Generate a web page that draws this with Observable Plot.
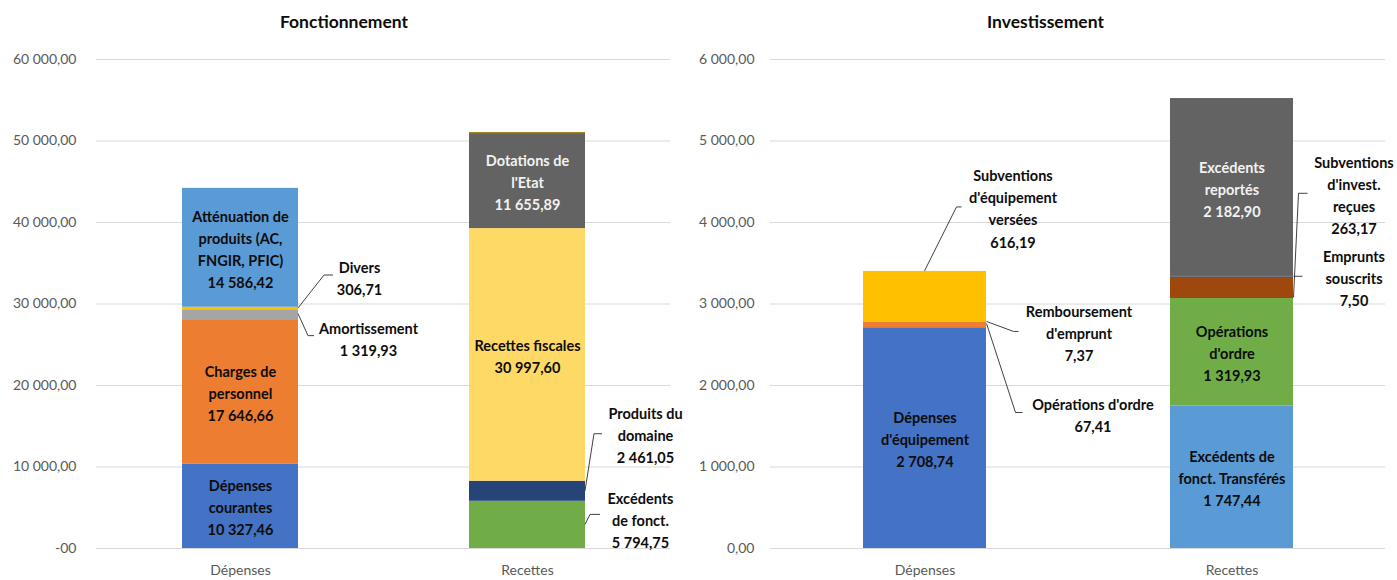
<!DOCTYPE html>
<html>
<head>
<meta charset="utf-8">
<script src="https://cdn.jsdelivr.net/npm/d3@7"></script>
<script src="https://cdn.jsdelivr.net/npm/@observablehq/plot@0.6"></script>
<style>
  body { margin: 0; background: #fff; font-family: Lato, "Noto Sans", sans-serif; }
  #wrap { display: flex; width: 1397px; height: 580px; overflow: hidden; }
  .panel { position: relative; }
  .title { height: 40px; box-sizing: border-box; padding-top: 12px; text-align: center;
           font-weight: bold; font-size: 17.5px; line-height: 20px; color: #0D0D0D; }
  #p1 .title { padding-right: 10px; }
  #p2 .title { padding-right: 4px; }
</style>
</head>
<body>
<div id="wrap"><div class="panel" id="p1"></div><div class="panel" id="p2"></div></div>
<script>
// ---------- DATA ----------
const categories = ["Dépenses", "Recettes"];

// Fonctionnement
const fDepNames  = ["Dépenses\ncourantes", "Charges de\npersonnel", "Amortissement", "Divers", "Atténuation de\nproduits (AC,\nFNGIR, PFIC)"];
const fDepValues = [10327.46, 17646.66, 1319.93, 306.71, 14586.42];
const fRecNames  = ["Excédents\nde fonct.", "Produits du\ndomaine", "Recettes fiscales", "Dotations de\nl'Etat", ""];
const fRecValues = [5794.75, 2461.05, 30997.60, 11655.89, 120];

// Investissement
const iDepNames  = ["Dépenses\nd'équipement", "Opérations d'ordre", "Remboursement\nd'emprunt", "Subventions\nd'équipement\nversées"];
const iDepValues = [2708.74, 67.41, 7.37, 616.19];
const iRecNames  = ["Excédents de\nfonct. Transférés", "Opérations\nd'ordre", "Subventions\nd'invest.\nreçues", "Emprunts\nsouscrits", "Excédents\nreportés"];
const iRecValues = [1747.44, 1319.93, 263.17, 7.50, 2182.90];

// Tick labels
const fTicks = [0, 10000, 20000, 30000, 40000, 50000, 60000];
const fTickLabels = ["-00", "10 000,00", "20 000,00", "30 000,00", "40 000,00", "50 000,00", "60 000,00"];
const iTicks = [0, 1000, 2000, 3000, 4000, 5000, 6000];
const iTickLabels = ["0,00", "1 000,00", "2 000,00", "3 000,00", "4 000,00", "5 000,00", "6 000,00"];

// ---------- STYLES ----------
const fDepColors = ["#4472C4", "#ED7D31", "#A5A5A5", "#FFC000", "#5B9BD5"];
const fRecColors = ["#70AD47", "#264478", "#FFD966", "#636363", "#997300"];
const iDepColors = ["#4472C4", "#ED7D31", "#A5A5A5", "#FFC000"];
const iRecColors = ["#5B9BD5", "#70AD47", "#9E480E", "#264478", "#636363"];

// Callout layout (pixel offsets from band centre / anchor point)
const fCallouts = [
  {cat: "Dépenses", idx: 3, at: "mid", path: [[58, 0], [84, -33], [93, -33]], tx: 119, ty: -32},
  {cat: "Dépenses", idx: 2, at: "mid", path: [[58, -1], [68, 21], [74, 21]], tx: 128, ty: 23},
  {cat: "Recettes", idx: 1, at: "mid", path: [[58, 0], [67, -57], [75, -57]], tx: 118, ty: -57},
  {cat: "Recettes", idx: 0, at: "mid", path: [[58, 0], [63, -10], [73, -10]], tx: 113, ty: -6}
];
const iCallouts = [
  {cat: "Dépenses", idx: 3, at: "y2", path: [[0, 0], [32, -64], [37, -64]], tx: 88, ty: -64},
  {cat: "Dépenses", idx: 2, at: "mid", path: [[62, 0], [89, 10], [94, 10]], tx: 154, ty: 10},
  {cat: "Dépenses", idx: 1, at: "mid", path: [[62, -1], [91, 88], [98, 88]], tx: 168, ty: 89},
  {cat: "Recettes", idx: 2, at: "mid", path: [[62, 10], [67, -94], [76, -94]], tx: 122, ty: -94},
  {cat: "Recettes", idx: 3, at: "mid", path: [[62, 0], [71, 0]], tx: 122, ty: 0}
];

// ---------- HELPERS ----------
const loc = d3.formatLocale({decimal: ",", thousands: " ", grouping: [3]});
const fmt = loc.format(",.2f");
const LABEL_SIZE = 14.5;

function buildRows(cat, names, values, colors) {
  let acc = 0;
  return values.map((v, i) => {
    const y1 = acc; acc += v;
    return {cat, idx: i, name: names[i], value: v, y1, y2: acc, mid: (y1 + acc) / 2,
            color: colors[i],
            textColor: colors[i] === "#636363" ? "#F2F2F2" : "#0D0D0D",
            label: names[i] ? names[i] + "\n" + fmt(v) : ""};
  });
}

function makePanel(el, {title, rows, callouts, ticks, tickLabels, max, width, marginLeft, marginRight, yPad, paddingInner, paddingOuter}) {
  const key = r => r.cat + "|" + r.idx;
  const calloutKeys = new Set(callouts.map(key));
  const inside = rows.filter(r => r.label && !calloutKeys.has(key(r)));
  const findRow = c => rows.find(r => r.cat === c.cat && r.idx === c.idx);

  const leaders = (index, scales) => {
    const sx = scales.x, sy = scales.y;
    const bw = typeof sx.bandwidth === "function" ? sx.bandwidth() : 0;
    const g = document.createElementNS("http://www.w3.org/2000/svg", "g");
    for (const c of callouts) {
      const r = findRow(c);
      const cx = sx(c.cat) + bw / 2;
      const cy = sy(r[c.at]);
      const d = c.path.map((p, i) => (i ? "L" : "M") + (cx + p[0]) + "," + (cy + p[1])).join("");
      const path = document.createElementNS("http://www.w3.org/2000/svg", "path");
      path.setAttribute("d", d);
      path.setAttribute("fill", "none");
      path.setAttribute("stroke", "#404040");
      path.setAttribute("stroke-width", "1");
      g.appendChild(path);
    }
    return g;
  };

  const calloutTexts = callouts.map(c => {
    const r = findRow(c);
    return Plot.text([r], {
      x: "cat", y: d => d[c.at], text: "label", dx: c.tx, dy: c.ty,
      fill: "#0D0D0D", fontWeight: "bold", fontSize: LABEL_SIZE, lineHeight: 1.52
    });
  });

  const t = document.createElement("div");
  t.className = "title";
  t.textContent = title;
  el.appendChild(t);

  const chart = Plot.plot({
    width, height: 540,
    marginTop: 19, marginBottom: 32, marginLeft, marginRight,
    style: {fontFamily: "Lato, 'Noto Sans', sans-serif", fontSize: "14px", color: "#595959", background: "#fff"},
    color: {type: "identity"},
    x: {domain: categories, paddingInner, paddingOuter, tickSize: 0, tickPadding: 17, label: null},
    y: {domain: [0, max], ticks, tickFormat: d => tickLabels[ticks.indexOf(d)], tickSize: 0, tickPadding: yPad, label: null},
    marks: [
      Plot.ruleY(ticks, {stroke: "#D9D9D9", strokeWidth: 1}),
      Plot.barY(rows, {x: "cat", y1: "y1", y2: "y2", fill: "color"}),
      Plot.text(inside, {x: "cat", y: "mid", text: "label", fill: "textColor",
                         fontWeight: "bold", fontSize: LABEL_SIZE, lineHeight: 1.52}),
      leaders,
      ...calloutTexts
    ]
  });
  el.appendChild(chart);
}

const fRows = [...buildRows("Dépenses", fDepNames, fDepValues, fDepColors),
               ...buildRows("Recettes", fRecNames, fRecValues, fRecColors)];
const iRows = [...buildRows("Dépenses", iDepNames, iDepValues, iDepColors),
               ...buildRows("Recettes", iRecNames, iRecValues, iRecColors)];

makePanel(document.getElementById("p1"), {
  title: "Fonctionnement", rows: fRows, callouts: fCallouts, ticks: fTicks, tickLabels: fTickLabels,
  max: 60000, width: 698, marginLeft: 96, marginRight: 28, yPad: 20, paddingInner: 0.596, paddingOuter: 0.298
});
makePanel(document.getElementById("p2"), {
  title: "Investissement", rows: iRows, callouts: iCallouts, ticks: iTicks, tickLabels: iTickLabels,
  max: 6000, width: 699, marginLeft: 72, marginRight: 12, yPad: 16, paddingInner: 0.6, paddingOuter: 0.3
});
</script>
</body>
</html>
